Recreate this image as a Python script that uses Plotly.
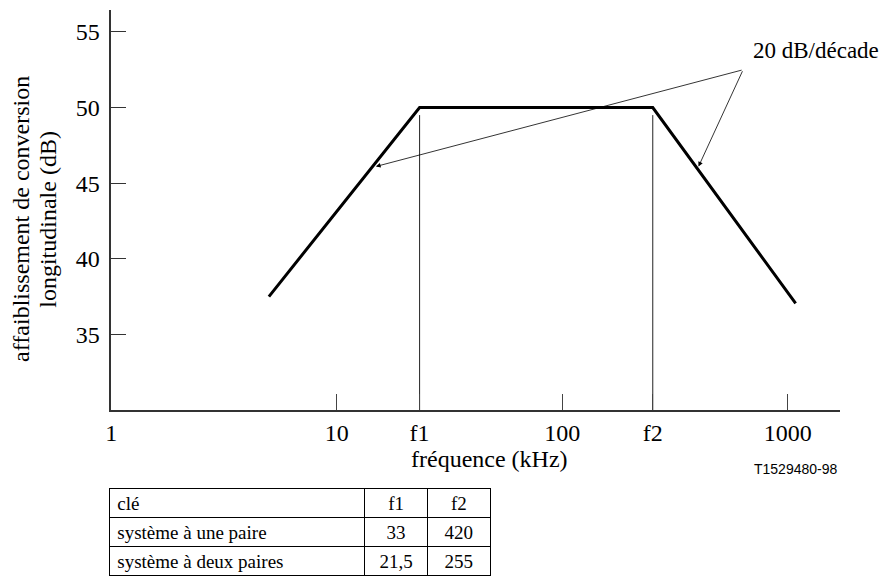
import math
import plotly.graph_objects as go

# Frequency response template (log frequency in kHz, attenuation in dB)
freq_khz = [5.0, 23.3, 252.0, 1084.0]
atten_db = [37.5, 50.0, 50.0, 37.05]

# Corner frequencies shown as labelled verticals
f1 = 23.3
f2 = 252.0
corner_top_db = 49.5

# Axis ticks
x_tickvals = [1, 10, f1, 100, f2, 1000]
x_ticktext = ["1", "10", "f1", "100", "f2", "1000"]
y_tickvals = [35, 40, 45, 50, 55]

# Slope annotation: arrow tail (common apex) and heads on each slope
slope_label = "20 dB/décade"
apex = (634.0, 52.5)
arrow_heads = [(14.9, 46.1), (402.0, 46.1)]

# Key table
table_header = ["clé", "f1", "f2"]
table_systems = ["système à une paire", "système à deux paires"]
table_f1 = ["33", "21,5"]
table_f2 = ["420", "255"]

W, H = 882, 576
serif = "Liberation Serif, Times New Roman, serif"


def px(xp):
    return xp / W


def py(yp):
    return 1 - yp / H


fig = go.Figure()

fig.add_trace(go.Scatter(
    x=[f1, f1, None, f2, f2],
    y=[corner_top_db, 30, None, corner_top_db, 30],
    mode="lines", line=dict(color="#222", width=1),
    hoverinfo="skip", showlegend=False,
))
fig.add_trace(go.Scatter(
    x=freq_khz, y=atten_db, mode="lines",
    line=dict(color="black", width=3), showlegend=False,
))

for hx, hy in arrow_heads:
    fig.add_annotation(
        x=math.log10(hx), y=hy, xref="x", yref="y",
        ax=math.log10(apex[0]), ay=apex[1], axref="x", ayref="y",
        text="", showarrow=True, arrowhead=2, arrowsize=1.2,
        arrowwidth=0.8, arrowcolor="black", standoff=0, startstandoff=0,
    )

text_font = dict(family=serif, size=24, color="black")

fig.add_annotation(
    x=px(816), y=py(50), xref="paper", yref="paper",
    xanchor="center", yanchor="middle",
    text=slope_label, showarrow=False,
    font=dict(family=serif, size=23, color="black"),
)
fig.add_annotation(
    x=px(487), y=py(459), xref="paper", yref="paper",
    xanchor="center", yanchor="middle",
    text="fréquence (kHz)", showarrow=False, font=text_font,
)
fig.add_annotation(
    x=px(15), y=py(219), xref="paper", yref="paper",
    xanchor="center", yanchor="middle",
    text="affaiblissement de conversion",
    textangle=-90, showarrow=False, font=text_font,
)
fig.add_annotation(
    x=px(42), y=py(219), xref="paper", yref="paper",
    xanchor="center", yanchor="middle",
    text="longitudinale (dB)",
    textangle=-90, showarrow=False, font=text_font,
)
fig.add_annotation(
    x=px(840), y=py(469), xref="paper", yref="paper",
    xanchor="right", yanchor="middle",
    text="T1529480-98", showarrow=False,
    font=dict(family="Liberation Sans, Arial, sans-serif", size=14,
              color="black"),
)

fig.add_trace(go.Table(
    domain=dict(x=[px(104), px(488)], y=[0, py(488)]),
    columnwidth=[256, 63, 63],
    header=dict(
        values=table_header,
        align=["left", "center", "center"],
        line=dict(color="black", width=1), fill=dict(color="white"),
        font=dict(family=serif, size=19, color="black"), height=29,
    ),
    cells=dict(
        values=[table_systems, table_f1, table_f2],
        align=["left", "center", "center"],
        line=dict(color="black", width=1), fill=dict(color="white"),
        font=dict(family=serif, size=19, color="black"), height=29,
    ),
))

fig.update_layout(
    width=W, height=H,
    margin=dict(l=0, r=0, t=0, b=0),
    paper_bgcolor="white", plot_bgcolor="white",
    showlegend=False,
    xaxis=dict(
        type="log", range=[0, 3.233],
        domain=[px(106), px(840)],
        tickvals=x_tickvals, ticktext=x_ticktext,
        ticks="inside", ticklen=16, tickcolor="#444", tickwidth=1,
        showline=True, linecolor="#333", linewidth=1.5,
        showgrid=False, zeroline=False,
        tickfont=dict(family=serif, size=24, color="black"),
    ),
    yaxis=dict(
        range=[30, 56.45],
        domain=[py(410), py(10)],
        tickvals=y_tickvals,
        ticks="inside", ticklen=15, tickcolor="#333", tickwidth=1,
        ticklabelstandoff=5,
        showline=True, linecolor="#333", linewidth=1.5,
        showgrid=False, zeroline=False,
        tickfont=dict(family=serif, size=24, color="black"),
    ),
)

fig.write_html("out.html")
